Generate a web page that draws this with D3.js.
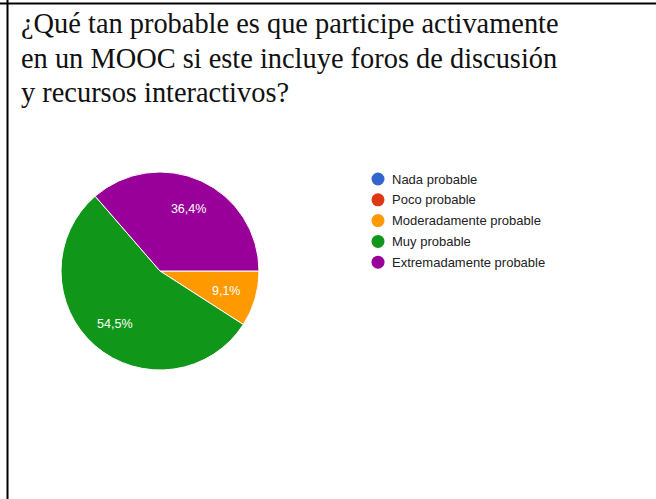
<!DOCTYPE html>
<html>
<head>
<meta charset="utf-8">
<script src="https://cdn.jsdelivr.net/npm/d3@7"></script>
<style>
  html, body { margin: 0; padding: 0; background: #fff; }
  svg { display: block; }
  .title { font-family: "Liberation Serif", "Times New Roman", serif; }
</style>
</head>
<body>
<svg id="chart" width="656" height="499"></svg>
<script>
const titleLines = [
  "¿Qué tan probable es que participe activamente",
  "en un MOOC si este incluye foros de discusión",
  "y recursos interactivos?"
];
const categories = ["Nada probable", "Poco probable", "Moderadamente probable", "Muy probable", "Extremadamente probable"];
const counts = [0, 0, 1, 6, 4];
const colors = ["#3366cc", "#dc3912", "#ff9900", "#109618", "#990099"];

const svg = d3.select("#chart");
const width = +svg.attr("width");
const height = +svg.attr("height");

// frame lines (table cell borders)
svg.append("line").attr("x1", 0).attr("x2", width).attr("y1", 3.5).attr("y2", 3.5)
  .attr("stroke", "#000").attr("stroke-width", 2);
svg.append("line").attr("x1", 7.5).attr("x2", 7.5).attr("y1", 0).attr("y2", height)
  .attr("stroke", "#000").attr("stroke-width", 2);

// title: one text element, a tspan per line
const title = svg.append("text")
  .attr("class", "title")
  .attr("font-family", "Liberation Serif")
  .attr("font-size", 28.4)
  .attr("fill", "#111");
title.selectAll("tspan")
  .data(titleLines)
  .enter()
  .append("tspan")
  .attr("x", 21)
  .attr("y", (d, i) => 33 + i * 34.5)
  .attr("font-family", "Liberation Serif")
  .text((d) => d);

// pie
const cx = 160, cy = 271, r = 99;
const total = d3.sum(counts);
const data = categories.map((c, i) => ({ name: c, value: counts[i], color: colors[i] }));

const pie = d3.pie()
  .value((d) => d.value)
  .sort(null)
  .startAngle(Math.PI / 2)
  .endAngle(Math.PI / 2 + 2 * Math.PI);

const arc = d3.arc().innerRadius(0).outerRadius(r);
const labelArc = d3.arc().innerRadius(69).outerRadius(69);

const g = svg.append("g").attr("transform", `translate(${cx},${cy})`);
const arcs = pie(data).filter((d) => d.data.value > 0);

g.selectAll("path")
  .data(arcs)
  .enter()
  .append("path")
  .attr("d", arc)
  .attr("fill", (d) => d.data.color)
  .attr("stroke", "#fff")
  .attr("stroke-width", 1);

const fmt = (v) => (Math.round((v / total) * 1000) / 10).toFixed(1).replace(".", ",") + "%";

g.selectAll("text")
  .data(arcs)
  .enter()
  .append("text")
  .attr("x", (d) => labelArc.centroid(d)[0])
  .attr("y", (d) => labelArc.centroid(d)[1])
  .attr("text-anchor", "middle")
  .attr("dy", "0.35em")
  .attr("font-family", "Liberation Sans")
  .attr("font-size", 12.5)
  .attr("fill", "#fff")
  .text((d) => fmt(d.data.value));

// legend
const legend = svg.append("g").attr("transform", "translate(378,179)");
const item = legend.selectAll("g")
  .data(data)
  .enter()
  .append("g")
  .attr("transform", (d, i) => `translate(0,${i * 20.8})`);

item.append("circle")
  .attr("r", 6.5)
  .attr("fill", (d) => d.color);

item.append("text")
  .attr("x", 14)
  .attr("dy", "0.35em")
  .attr("font-family", "Liberation Sans")
  .attr("font-size", 13)
  .attr("fill", "#222")
  .text((d) => d.name);
</script>
</body>
</html>
